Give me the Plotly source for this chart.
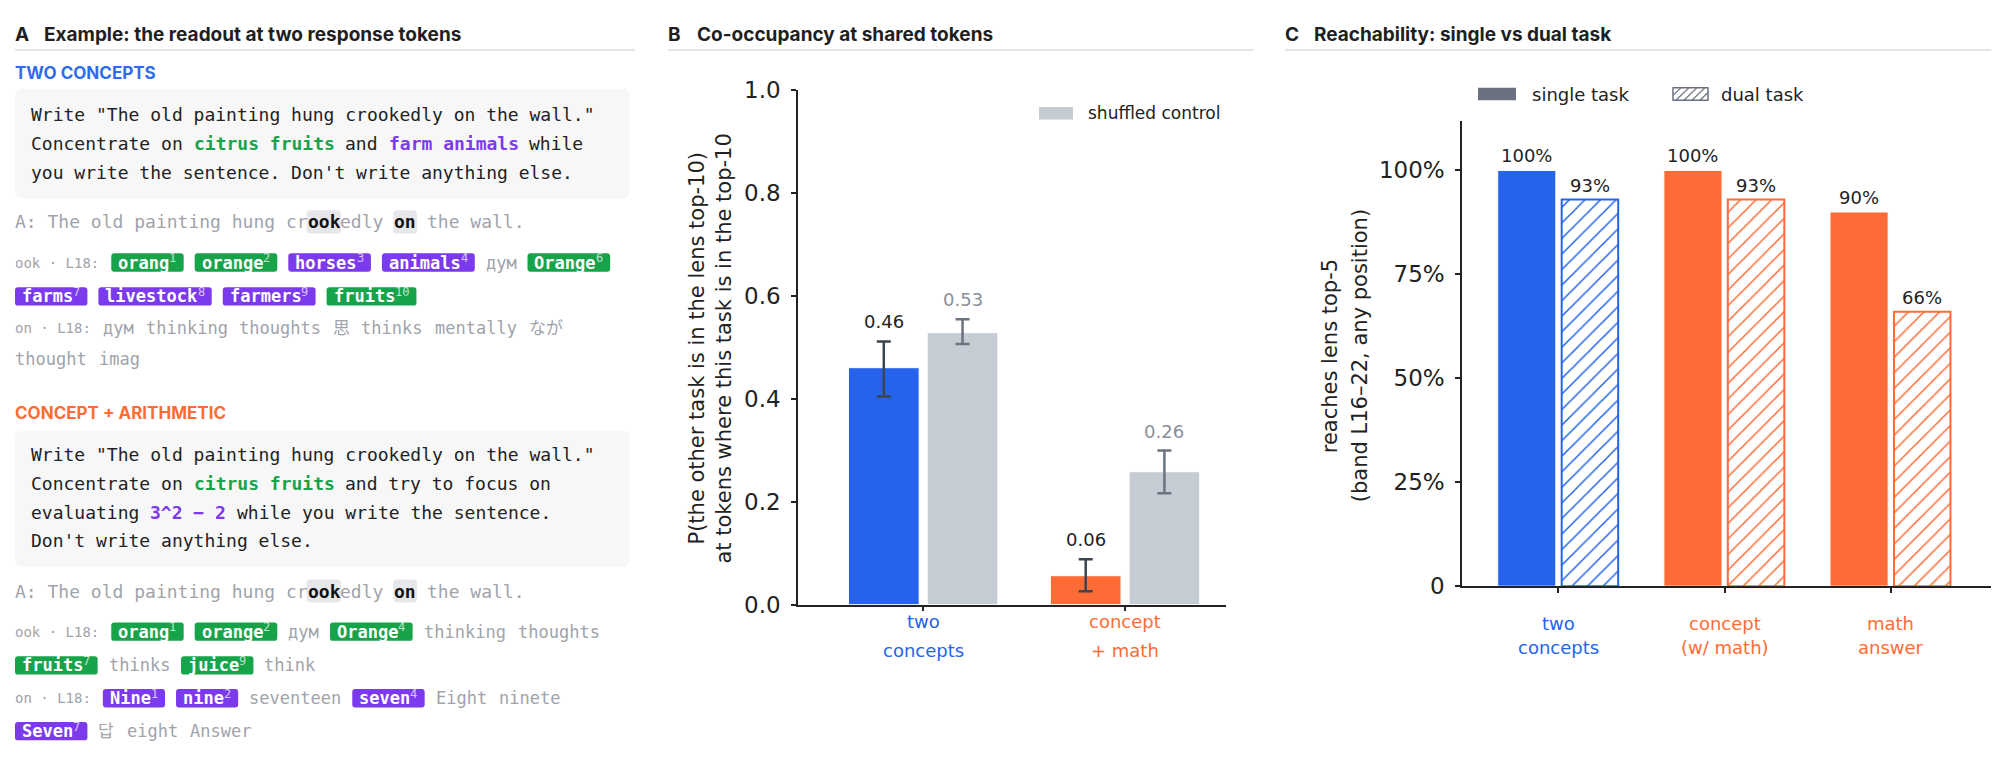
import plotly.graph_objects as go

W, H = 1999, 768
OFF = 8  # the page body adds an 8px margin, so place everything 8px up/left
MONO = "DejaVu Sans Mono, Noto Sans CJK JP, monospace"
SANS = "DejaVu Sans"
HEAD = "Inter"

BLUE = "#2563eb"
ORANGE = "#ff6b35"
GREEN = "#16a34a"
PURPLE = "#7c3aed"
CTRL = "#c6ccd4"
GREY_TXT = "#9fa3aa"
INK = "#222222"

# panel B: co-occupancy at shared tokens
b_groups = ["two\nconcepts", "concept\n+ math"]
b_colors = [BLUE, ORANGE]
b_task = [0.46, 0.056]
b_task_hi = [0.511, 0.088]
b_task_lo = [0.404, 0.026]
b_ctrl = [0.528, 0.258]
b_ctrl_hi = [0.554, 0.299]
b_ctrl_lo = [0.506, 0.216]

# panel C: reachability, single vs dual task
c_groups = ["two\nconcepts", "concept\n(w/ math)", "math\nanswer"]
c_colors = [BLUE, ORANGE, ORANGE]
c_single = [1.00, 1.00, 0.90]
c_dual = [0.93, 0.93, 0.66]
c_yticks = [0, 0.25, 0.5, 0.75, 1.0]
c_yticklabels = ["0", "25%", "50%", "75%", "100%"]

# panel A: prompts and lens readouts
prompt_1 = [
    [('Write "The old painting hung crookedly on the wall."', "")],
    [("Concentrate on ", ""), ("citrus fruits", "g"), (" and ", ""), ("farm animals", "p"), (" while", "")],
    [("you write the sentence. Don't write anything else.", "")],
]
prompt_2 = [
    [('Write "The old painting hung crookedly on the wall."', "")],
    [("Concentrate on ", ""), ("citrus fruits", "g"), (" and try to focus on", "")],
    [("evaluating ", ""), ("3^2 − 2", "p"), (" while you write the sentence.", "")],
    [("Don't write anything else.", "")],
]
answer = [("A: The old painting hung cr", ""), ("ook", "hl"), ("edly ", ""), ("on", "hl"), (" the wall.", "")]

readout_1 = [
    ("ook · L18:", [("orang", 1, "g"), ("orange", 2, "g"), ("horses", 3, "p"), ("animals", 4, "p"),
                    ("дум", None, ""), ("Orange", 6, "g")]),
    ("", [("farms", 7, "p"), ("livestock", 8, "p"), ("farmers", 9, "p"), ("fruits", 10, "g")]),
    ("on · L18:", [("дум", None, ""), ("thinking", None, ""), ("thoughts", None, ""), ("思", None, ""),
                   ("thinks", None, ""), ("mentally", None, ""), ("なが", None, "")]),
    ("", [("thought", None, ""), ("imag", None, "")]),
]
readout_2 = [
    ("ook · L18:", [("orang", 1, "g"), ("orange", 2, "g"), ("дум", None, ""), ("Orange", 4, "g"),
                    ("thinking", None, ""), ("thoughts", None, "")]),
    ("", [("fruits", 7, "g"), ("thinks", None, ""), ("juice", 9, "g"), ("think", None, "")]),
    ("on · L18:", [("Nine", 1, "p"), ("nine", 2, "p"), ("seventeen", None, ""), ("seven", 4, "p"),
                   ("Eight", None, ""), ("ninete", None, "")]),
    ("", [("Seven", 7, "p"), ("답", None, ""), ("eight", None, ""), ("Answer", None, "")]),
]

shapes, notes = [], []


def X(px):
    return (px - OFF) / W


def Y(py):
    return 1 - (py - OFF) / H


def text(px, py, s, size, color, family=MONO, anchor="left", weight="normal", **kw):
    notes.append(dict(x=X(px), y=Y(py), xref="paper", yref="paper", text=s, showarrow=False,
                      xanchor=anchor, yanchor="middle", borderpad=0, borderwidth=0,
                      font=dict(family=family, size=size, color=color, weight=weight), **kw))


def rbox(x0, y0, x1, y1, r, fill, line_color=None, lw=0):
    p = (f"M{X(x0 + r)},{Y(y0)} L{X(x1 - r)},{Y(y0)} Q{X(x1)},{Y(y0)} {X(x1)},{Y(y0 + r)} "
         f"L{X(x1)},{Y(y1 - r)} Q{X(x1)},{Y(y1)} {X(x1 - r)},{Y(y1)} L{X(x0 + r)},{Y(y1)} "
         f"Q{X(x0)},{Y(y1)} {X(x0)},{Y(y1 - r)} L{X(x0)},{Y(y0 + r)} Q{X(x0)},{Y(y0)} {X(x0 + r)},{Y(y0)} Z")
    shapes.append(dict(type="path", path=p, xref="paper", yref="paper", fillcolor=fill,
                       line=dict(width=lw, color=line_color or fill)))


def hline(x0, x1, y, color="#dcdcdc", w=1.5):
    shapes.append(dict(type="line", xref="paper", yref="paper", x0=X(x0), x1=X(x1), y0=Y(y), y1=Y(y),
                       line=dict(color=color, width=w)))


def tw(s, size):
    return sum(0.95 * size if ord(c) >= 0x2E80 else 0.602 * size for c in s)


SEG_STYLE = {"": (None, "normal"), "g": (GREEN, "bold"), "p": (PURPLE, "bold"), "hl": ("#111111", "bold")}


def mono_line(x, y, segs, size, base_color):
    cw = 0.602 * size
    for seg, kind in segs:
        lead = len(seg) - len(seg.lstrip(" "))
        body = seg.strip(" ")
        if kind == "hl":
            rbox(x - 1, y - 12, x + len(seg) * cw + 1, y + 12, 4, "#e6e7ea")
        if body:
            color, weight = SEG_STYLE[kind]
            text(x + lead * cw, y, body, size, color or base_color, weight=weight)
        x += len(seg) * cw


def prompt_box(lines, top, bottom, y0, dy):
    rbox(15, top, 630, bottom, 8, "#f7f7f8")
    for i, line in enumerate(lines):
        mono_line(31, y0 + i * dy, line, 18, INK)


def readout(rows, ys):
    fs, sup, pad = 17, 12, 7
    for (label, toks), y in zip(rows, ys):
        x = 15
        if label:
            text(x, y, label, 14, GREY_TXT)
            x += tw(label, 14) + 12
        prev_chip = False
        for idx, (tok, rank, kind) in enumerate(toks):
            if idx > 0:
                x += 11 if (kind or prev_chip) else 12
            if kind:
                w = tw(tok, fs) + tw(str(rank), sup) + 2 * pad
                rbox(x, y - 9.5, x + w, y + 9.5, 3, GREEN if kind == "g" else PURPLE)
                text(x + pad, y, tok, fs, "white", weight="bold")
                text(x + pad + tw(tok, fs), y - 4.5, str(rank), sup, "rgba(255,255,255,0.72)")
            else:
                w = tw(tok, fs)
                text(x, y, tok, fs, GREY_TXT)
            x += w
            prev_chip = bool(kind)


# ---- panel headings
for letter, title, x0, x1 in [("A", "Example: the readout at two response tokens", 15, 635),
                              ("B", "Co-occupancy at shared tokens", 668, 1254),
                              ("C", "Reachability: single vs dual task", 1285, 1992)]:
    text(x0, 22, letter, 19, "#1f1f1f", family=HEAD, weight="bold")
    text(x0 + 29, 22, title, 19, "#1f1f1f", family=HEAD, weight="bold")
    hline(x0, x1, 38)

# ---- panel A
text(15, 62, "TWO CONCEPTS", 17, "#2f6bef", family=HEAD, weight="bold")
prompt_box(prompt_1, 78, 192, 105, 30)
mono_line(15, 216, answer, 18, GREY_TXT)
readout(readout_1, [258, 293, 326, 358])

text(15, 414, "CONCEPT + ARITHMETIC", 17, ORANGE, family=HEAD, weight="bold")
prompt_box(prompt_2, 432, 573, 457, 29.7)
mono_line(15, 598, answer, 18, GREY_TXT)
readout(readout_2, [640, 675, 709, 743])

# ---- panel B bars
bx = list(range(len(b_groups)))
fig = go.Figure()
fig.add_trace(go.Bar(
    x=bx, y=b_task, width=0.35, offset=-0.37, xaxis="x", yaxis="y",
    marker=dict(color=b_colors, line=dict(color="white", width=1)),
    error_y=dict(type="data", symmetric=False,
                 array=[h - v for h, v in zip(b_task_hi, b_task)],
                 arrayminus=[v - l for v, l in zip(b_task, b_task_lo)],
                 color="#3d4451", thickness=2.5, width=7),
))
fig.add_trace(go.Bar(
    x=bx, y=b_ctrl, width=0.35, offset=0.02, xaxis="x", yaxis="y",
    marker=dict(color=CTRL, line=dict(color="white", width=1)),
    error_y=dict(type="data", symmetric=False,
                 array=[h - v for h, v in zip(b_ctrl_hi, b_ctrl)],
                 arrayminus=[v - l for v, l in zip(b_ctrl, b_ctrl_lo)],
                 color="#6b7280", thickness=2.5, width=7),
))
for i in bx:
    notes.append(dict(x=i - 0.195, y=b_task_hi[i], xref="x", yref="y", text=f"{b_task[i]:.2f}",
                      showarrow=False, yanchor="bottom", yshift=7,
                      font=dict(family=SANS, size=18, color=INK)))
    notes.append(dict(x=i + 0.195, y=b_ctrl_hi[i], xref="x", yref="y", text=f"{b_ctrl[i]:.2f}",
                      showarrow=False, yanchor="bottom", yshift=7,
                      font=dict(family=SANS, size=18, color="#8a909a")))
    for j, line in enumerate(b_groups[i].split("\n")):
        notes.append(dict(x=i, y=Y(630 + 30 * j), xref="x", yref="paper", text=line, showarrow=False,
                          yanchor="middle", font=dict(family=SANS, size=18, color=b_colors[i])))

# legend B
rbox(1039, 97, 1073, 110, 0.01, CTRL)
text(1088, 103.5, "shuffled control", 17, INK, family=SANS)
# y title B
text(697, 347, "P(the other task is in the lens top-10)", 21, INK, family=SANS, anchor="center", textangle=-90)
text(724, 347, "at tokens where this task is in the top-10", 21, INK, family=SANS, anchor="center", textangle=-90)

# ---- panel C bars
cx = list(range(len(c_groups)))
fig.add_trace(go.Bar(
    x=cx, y=c_single, width=0.35, offset=-0.365, xaxis="x2", yaxis="y2",
    marker=dict(color=c_colors, line=dict(color="white", width=1)),
))
fig.add_trace(go.Bar(
    x=cx, y=c_dual, width=0.34, offset=0.02, xaxis="x2", yaxis="y2",
    marker=dict(color=c_colors, line=dict(color=c_colors, width=2),
                pattern=dict(shape="/", fillmode="replace", fgcolor=c_colors, bgcolor="white",
                             size=11, solidity=0.14)),
))
for i in cx:
    for off, v in [(-0.19, c_single[i]), (0.19, c_dual[i])]:
        notes.append(dict(x=i + off, y=v, xref="x2", yref="y2", text=f"{v:.0%}", showarrow=False,
                          yanchor="bottom", yshift=2, font=dict(family=SANS, size=18, color=INK)))
    for j, line in enumerate(c_groups[i].split("\n")):
        notes.append(dict(x=i, y=Y(632 + 24 * j), xref="x2", yref="paper", text=line, showarrow=False,
                          yanchor="middle", font=dict(family=SANS, size=18, color=c_colors[i])))

# legend C
SW = "#6b7080"
rbox(1478, 77, 1516, 90, 0.01, SW)
text(1532, 84, "single task", 18, INK, family=SANS)
x0, x1, y0, y1 = 1673, 1708, 77, 90
rbox(x0, y0, x1, y1, 0.01, "white", SW, 1.5)
h = y1 - y0
xs = x0 - h
while xs < x1:
    t0 = max(0, (x0 - xs) / h)
    t1 = min(1, (x1 - xs) / h)
    if t0 < t1:
        shapes.append(dict(type="line", xref="paper", yref="paper",
                           x0=X(xs + t0 * h), y0=Y(y1 - t0 * h), x1=X(xs + t1 * h), y1=Y(y1 - t1 * h),
                           line=dict(color=SW, width=1.2)))
    xs += 8
text(1721, 84, "dual task", 18, INK, family=SANS)
# y title C
text(1330, 355, "reaches lens top-5", 21, INK, family=SANS, anchor="center", textangle=-90)
text(1360, 355, "(band L16–22, any position)", 21, INK, family=SANS, anchor="center", textangle=-90)

axis_common = dict(showline=True, linecolor=INK, linewidth=1.5, ticks="outside", ticklen=5,
                   tickwidth=1.5, tickcolor=INK, showgrid=False, zeroline=False, fixedrange=True)

fig.update_layout(
    width=W, height=H, margin=dict(l=0, r=0, t=0, b=0),
    paper_bgcolor="white", plot_bgcolor="white", showlegend=False, barmode="overlay",
    xaxis=dict(domain=[X(798), X(1226)], range=[-0.62, 1.5], anchor="y",
               tickvals=bx, showticklabels=False, **axis_common),
    yaxis=dict(domain=[Y(612), Y(79)], range=[0, 1.0], anchor="x", dtick=0.2, tickformat=".1f",
               ticklabelstandoff=6, tickfont=dict(family=SANS, size=23, color=INK), **axis_common),
    xaxis2=dict(domain=[X(1462), X(1992)], range=[-0.58, 2.61], anchor="y2",
                tickvals=cx, showticklabels=False, **axis_common),
    yaxis2=dict(domain=[Y(593), Y(111)], range=[0, 1.12], anchor="x2",
                tickvals=c_yticks, ticktext=c_yticklabels,
                ticklabelstandoff=6, tickfont=dict(family=SANS, size=23, color=INK), **axis_common),
    shapes=shapes, annotations=notes,
)

fig.write_html("out.html")
